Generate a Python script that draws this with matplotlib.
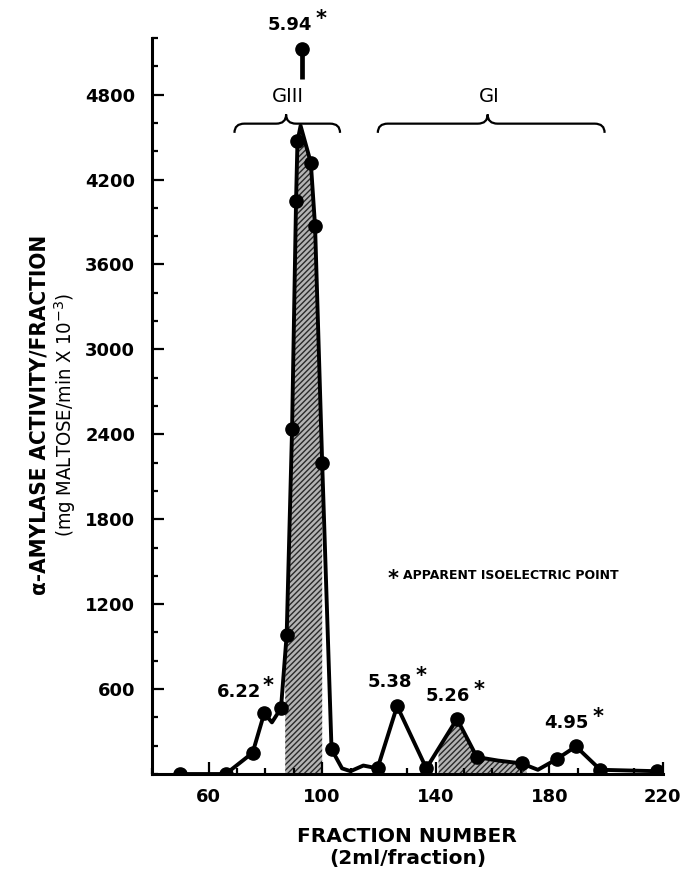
import numpy as np
import matplotlib
matplotlib.use("Agg")
import matplotlib.pyplot as plt
from matplotlib.path import Path
from matplotlib.patches import PathPatch

# Данные
fraction = [50, 66, 75.5, 79.6, 82.3, 85.5, 87.5, 89.4, 90.8, 91.3, 92.4,
            96.0, 97.5, 100.0, 103.3, 107, 110, 114.5, 119.5, 126.4, 136.7,
            147.5, 154.5, 162, 170.3, 176, 182.6, 189.4, 198.0, 218]
activity = [0, 0, 150, 430, 365, 465, 985, 2440, 4050, 4470, 4580,
            4320, 3870, 2200, 175, 40, 20, 60, 40, 480, 40,
            390, 120, 95, 75, 30, 105, 195, 30, 20]
# точки, отмеченные кружком
measured = [1, 1, 1, 1, 0, 1, 1, 1, 1, 1, 0,
            1, 1, 1, 1, 0, 0, 0, 1, 1, 1,
            1, 1, 0, 1, 0, 1, 1, 1, 1]

# пик за пределами шкалы
offscale_x = 92.9
offscale_y = 5120

# изоэлектрические точки: (подпись, x, y)
pi_labels = ["5.94", "6.22", "5.38", "5.26", "4.95"]
pi_x = [88.5, 70.9, 123.7, 144.2, 186.0]
pi_y = [5290, 578, 648, 550, 359]
pi_gap = [3, 0.5, 3, 3, 3]

# заштрихованные области
hatch_ranges = [(87.0, 100.0), (141.0, 172.0)]

# группы
groups = ["GIII", "GI"]
group_left = [69.1, 119.6]
group_right = [106.3, 199.5]
group_mid = [87.3, 158.3]

y_ticks = [600, 1200, 1800, 2400, 3000, 3600, 4200, 4800]
x_ticks = [60, 100, 140, 180, 220]

BOLD = dict(family="DejaVu Sans", fontweight="bold")


def draw_brace(ax, x0, x1, xm, y, dh=65, r=3.5):
    verts = [(x0, y - dh), (x0, y), (x0 + r, y), (xm - r, y),
             (xm, y), (xm, y + dh), (xm, y), (xm + r, y),
             (x1 - r, y), (x1, y), (x1, y - dh)]
    codes = [Path.MOVETO, Path.CURVE3, Path.CURVE3, Path.LINETO,
             Path.CURVE3, Path.CURVE3, Path.CURVE3, Path.CURVE3,
             Path.LINETO, Path.CURVE3, Path.CURVE3]
    ax.add_patch(PathPatch(Path(verts, codes), fill=False, lw=1.6,
                           color="black", clip_on=False))


fig = plt.figure(figsize=(6.84, 8.76), dpi=100)
ax = fig.add_axes([0.222, 0.1164, 0.747, 0.8402])

plt.rcParams["hatch.linewidth"] = 1.0
x = np.array(fraction)
y = np.array(activity)
for a, b in hatch_ranges:
    xx = np.linspace(a, b, 200)
    ax.fill_between(xx, 0, np.interp(xx, x, y), facecolor="#b4b4b4",
                    edgecolor="#2a2a2a", hatch="//////", linewidth=0)

ax.plot(x, y, color="black", lw=2.8, solid_joinstyle="round")
mask = np.array(measured, dtype=bool)
ax.plot(x[mask], y[mask], "o", color="black", ms=9.5)

# точка вне шкалы со стеблем
ax.plot([offscale_x, offscale_x], [offscale_y, offscale_y - 210],
        color="black", lw=3.4, solid_capstyle="butt", clip_on=False)
ax.plot(offscale_x, offscale_y, "o", color="black", ms=9.5, clip_on=False)

for lab, px, py, gap in zip(pi_labels, pi_x, pi_y, pi_gap):
    t = ax.text(px, py, lab, ha="center", va="center", fontsize=13,
                clip_on=False, **BOLD)
    ax.annotate("*", xy=(1, 1), xycoords=t, xytext=(gap, -9),
                textcoords="offset points", ha="left", va="bottom",
                fontsize=15, **BOLD)

for g, a, b, m in zip(groups, group_left, group_right, group_mid):
    draw_brace(ax, a, b, m, 4595)
    ax.text(m + 0.5, 4790, g, ha="center", va="center", fontsize=14,
            clip_on=False, family="DejaVu Sans")

ax.text(124.8, 1380, "*", ha="center", va="center", fontsize=15, **BOLD)
ax.text(128.5, 1400, "APPARENT ISOELECTRIC POINT", ha="left",
        va="center", fontsize=9, **BOLD)

ax.set_xlim(40, 220)
ax.set_ylim(0, 5200)
ax.set_xticks(x_ticks)
ax.set_xticks(np.arange(40, 221, 10), minor=True)
ax.set_yticks(y_ticks)
ax.set_yticks(np.arange(0, 5201, 200), minor=True)
ax.set_xticklabels([str(v) for v in x_ticks], fontsize=13, **BOLD)
ax.set_yticklabels([str(v) for v in y_ticks], fontsize=13, **BOLD)
ax.tick_params(which="both", direction="in", width=1.6, color="black")
ax.tick_params(which="major", length=8.5)
ax.tick_params(which="minor", length=4.5)
ax.tick_params(axis="y", pad=12)
ax.tick_params(axis="x", pad=10)
for s in ["top", "right"]:
    ax.spines[s].set_visible(False)
for s in ["left", "bottom"]:
    ax.spines[s].set_linewidth(2.2)

ax.text(0.5, -0.085, "FRACTION NUMBER", transform=ax.transAxes,
        ha="center", va="center", fontsize=14.5, **BOLD)
ax.text(0.5, -0.115, "(2ml/fraction)", transform=ax.transAxes,
        ha="center", va="center", fontsize=14.5, **BOLD)

fig.text(0.058, 1 - 415 / 876, "α-AMYLASE ACTIVITY/FRACTION", rotation=90,
         ha="center", va="center", fontsize=16, family="DejaVu Sans",
         fontstretch="condensed", fontweight="semibold")
fig.text(0.095, 1 - 415 / 876, "(mg MALTOSE/min X 10$^{-3}$)", rotation=90,
         ha="center", va="center", fontsize=14.5, family="DejaVu Sans",
         fontstretch="condensed")

fig.savefig("out.png", dpi=100)
